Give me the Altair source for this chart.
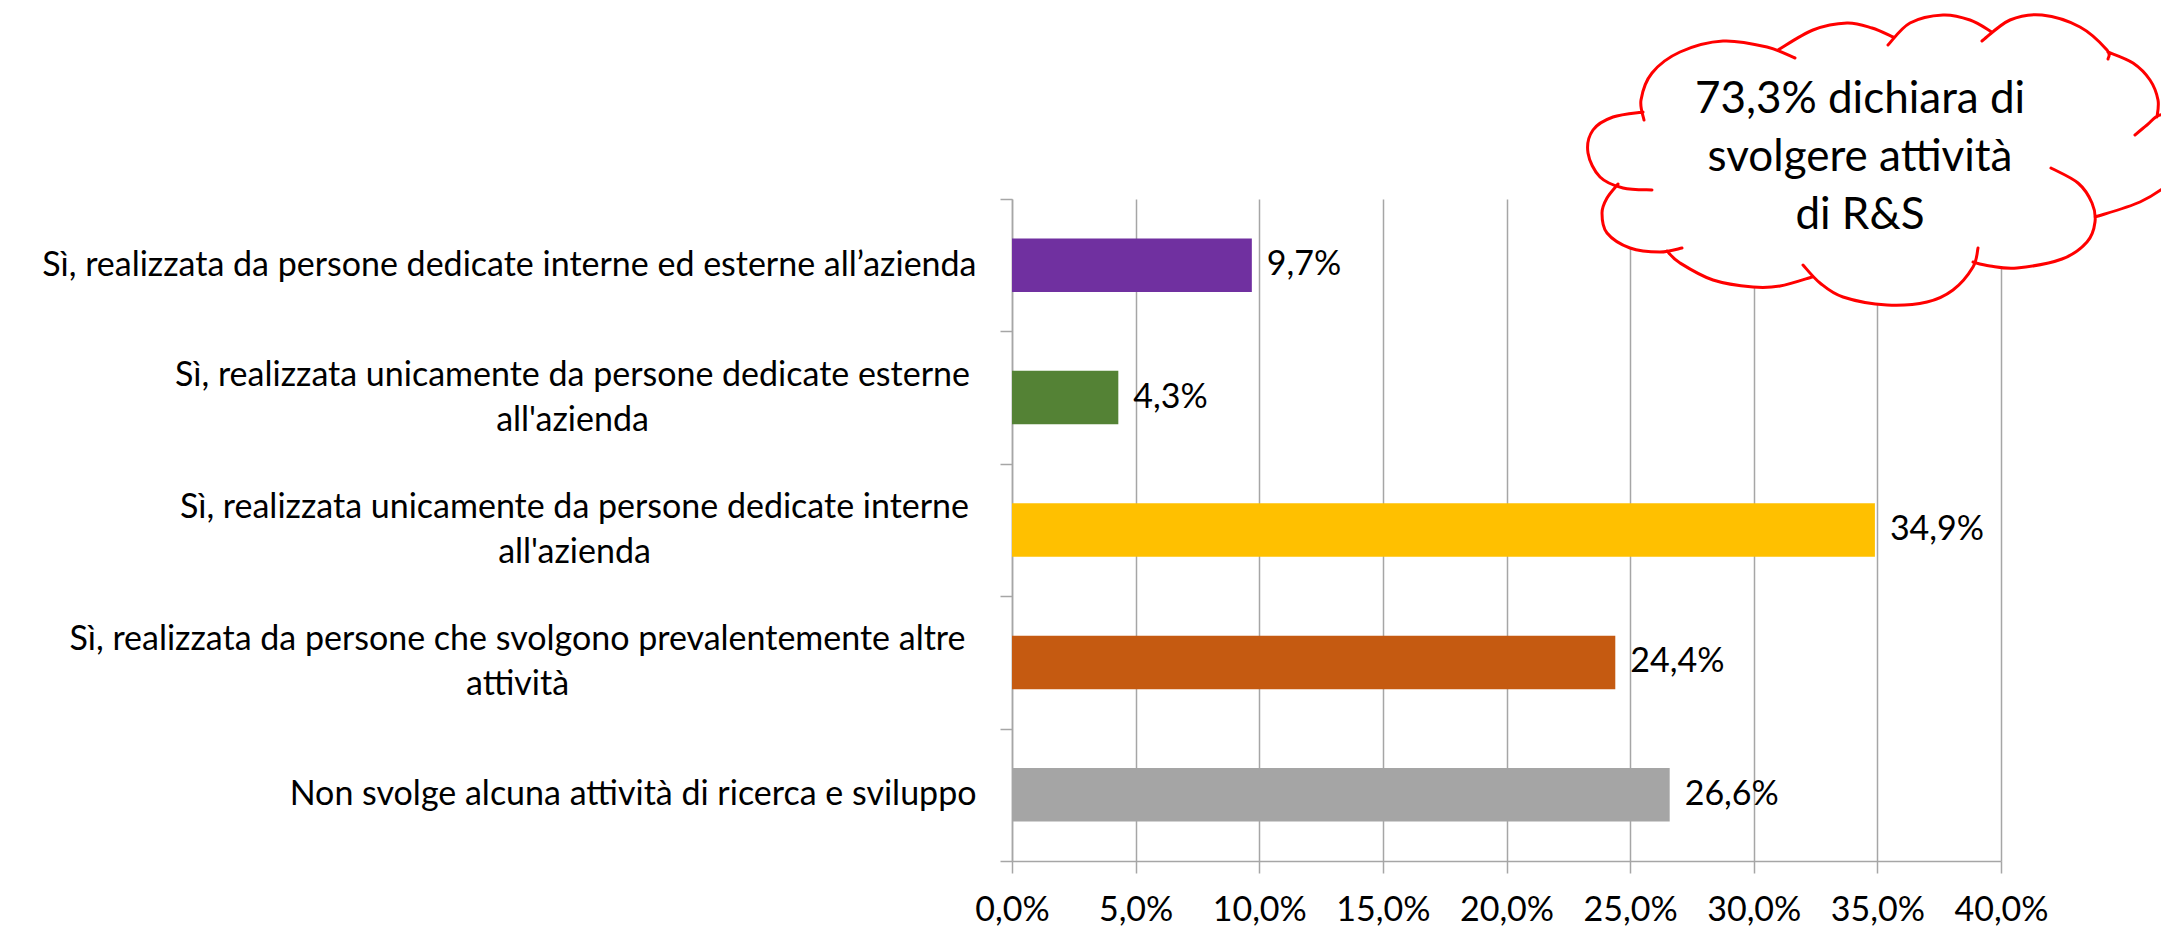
import json
import altair as alt
import pandas as pd

# ---------------- data ----------------
categories = [
    "Sì, realizzata da persone dedicate interne ed esterne all’azienda",
    "Sì, realizzata unicamente da persone dedicate esterne all'azienda",
    "Sì, realizzata unicamente da persone dedicate interne all'azienda",
    "Sì, realizzata da persone che svolgono prevalentemente altre attività",
    "Non svolge alcuna attività di ricerca e sviluppo",
]
label_lines = [
    ["Sì, realizzata da persone dedicate interne ed esterne all’azienda"],
    ["Sì, realizzata unicamente da persone dedicate esterne", "all'azienda"],
    ["Sì, realizzata unicamente da persone dedicate interne", "all'azienda"],
    ["Sì, realizzata da persone che svolgono prevalentemente altre", "attività"],
    ["Non svolge alcuna attività di ricerca e sviluppo"],
]
values = [0.097, 0.043, 0.349, 0.244, 0.266]
bar_colors = ["#7030A0", "#548235", "#FFC000", "#C55A11", "#A5A5A5"]
x_ticks = [0.0, 0.05, 0.10, 0.15, 0.20, 0.25, 0.30, 0.35, 0.40]
callout_lines = ["73,3% dichiara di", "svolgere attività", "di R&S"]

# ---------------- layout ----------------
W_TOTAL, H_TOTAL = 2161, 926
PAD_L, PAD_T, PLOT_W, PLOT_H = 1012, 199, 989, 662
PAD_R = W_TOTAL - PAD_L - PLOT_W
PAD_B = H_TOTAL - PAD_T - PLOT_H
FONT = "Lato"
GRID = "#A6A6A6"
BAR_SIZE = 53.5
LINE_H = 45

# cloud callout outline (page pixels), one list per bump of the cloud
cloud_bumps = [
    [(1644, 120), (1641, 100), (1652, 73), (1680, 52), (1723, 41), (1767, 47), (1795, 58)],
    [(1778, 50), (1813, 30), (1847, 23), (1872, 28), (1893, 37)],
    [(1888, 45), (1910, 23), (1943, 15), (1970, 20), (1992, 32)],
    [(1982, 41), (2010, 20), (2042, 15), (2080, 27), (2107, 50), (2108, 59)],
    [(2108, 52), (2133, 63), (2150, 80), (2158, 100), (2157, 117)],
    [(2135, 135), (2147, 125), (2160, 115), (2178, 120), (2190, 145), (2188, 165)],
    [(2192, 160), (2170, 183), (2140, 202), (2095, 217)],
    [(2051, 168), (2078, 183), (2092, 203), (2095, 222), (2087, 242), (2062, 259), (2017, 268), (1990, 266), (1973, 262)],
    [(1978, 248), (1973, 267), (1953, 290), (1927, 302), (1887, 305), (1843, 297), (1820, 283), (1803, 265)],
    [(1812, 277), (1780, 286), (1753, 287), (1713, 280), (1680, 263), (1667, 251)],
    [(1682, 248), (1660, 252), (1630, 248), (1607, 233), (1602, 213), (1607, 198), (1618, 184)],
    [(1652, 190), (1623, 188), (1600, 177), (1588, 153), (1593, 130), (1613, 117), (1643, 112)],
]
CLOUD_CENTER = (1880, 165)
CALLOUT_X, CALLOUT_Y_FIRST = 1860, 100


def rel(pt):
    return (pt[0] - PAD_L, pt[1] - PAD_T)


def fmt(pt):
    return f"{pt[0]:.1f} {pt[1]:.1f}"


def curve(pts):
    p = [rel(q) for q in pts]
    segs = []
    for i in range(len(p) - 1):
        p0 = p[i - 1] if i > 0 else p[i]
        p1, p2 = p[i], p[i + 1]
        p3 = p[i + 2] if i + 2 < len(p) else p[i + 1]
        c1 = (p1[0] + (p2[0] - p0[0]) / 6, p1[1] + (p2[1] - p0[1]) / 6)
        c2 = (p2[0] - (p3[0] - p1[0]) / 6, p2[1] - (p3[1] - p1[1]) / 6)
        segs.append(f"C {fmt(c1)} {fmt(c2)} {fmt(p2)}")
    return p[0], " ".join(segs)


fill_parts, stroke_parts = [], []
for bump in cloud_bumps:
    start, segs = curve(bump)
    fill_parts.append(f"M {fmt(rel(CLOUD_CENTER))} L {fmt(start)} {segs} Z")
    stroke_parts.append(f"M {fmt(start)} {segs}")
cloud_fill_path = " ".join(fill_parts)
cloud_stroke_path = " ".join(stroke_parts)

# ---------------- chart ----------------
df = pd.DataFrame({
    "idx": list(range(len(categories))),
    "category": categories,
    "value": values,
    "color": bar_colors,
})

lines_js = json.dumps(label_lines, ensure_ascii=False)
multi_test = "datum.value >= 1 && datum.value <= 3"

y_axis = alt.Axis(
    title=None,
    labelExpr=f"{lines_js}[datum.value]",
    labelFont=FONT,
    labelFontSize=34,
    labelColor="#000000",
    labelLineHeight=LINE_H,
    labelLimit=3000,
    labelBaseline="middle",
    labelAlign={"condition": {"test": multi_test, "value": "center"}, "value": "right"},
    labelPadding={"condition": [
        {"test": "datum.value == 1", "value": 428},
        {"test": "datum.value == 2", "value": 426},
        {"test": "datum.value == 3", "value": 483},
    ], "value": 24},
    labelOffset={"condition": {"test": multi_test, "value": -LINE_H / 2}, "value": 0},
    tickBand="extent",
    tickSize=12,
    tickColor=GRID,
    tickWidth=1.5,
    domainColor=GRID,
    domainWidth=1.5,
    grid=False,
)

x_axis = alt.Axis(
    title=None,
    values=x_ticks,
    labelExpr="replace(format(datum.value, '.1%'), '.', ',')",
    labelFont=FONT,
    labelFontSize=34,
    labelColor="#000000",
    labelPadding=20,
    labelFlush=False,
    labelOverlap=False,
    tickSize=12,
    tickColor=GRID,
    tickWidth=1.5,
    domainColor=GRID,
    domainWidth=1.5,
    grid=True,
    gridColor=GRID,
    gridWidth=1.5,
)

y_enc = alt.Y("idx:O", axis=y_axis,
              scale=alt.Scale(paddingInner=0, paddingOuter=0))
x_enc = alt.X("value:Q", axis=x_axis,
              scale=alt.Scale(domain=[0, 0.4], nice=False, zero=True))

base = alt.Chart(df)

bars = base.mark_bar(size=BAR_SIZE).encode(
    y=y_enc,
    x=x_enc,
    color=alt.Color("color:N", scale=None),
)

value_labels = base.transform_calculate(
    lab="replace(format(datum.value, '.1%'), '.', ',')"
).mark_text(
    align="left", baseline="middle", dx=15, font=FONT, fontSize=34, color="#000000"
).encode(
    y=alt.Y("idx:O"),
    x=alt.X("value:Q"),
    text="lab:N",
)

one = pd.DataFrame({"k": [0]})

cloud_fill = alt.Chart(one).mark_point(
    shape=cloud_fill_path, size=4, filled=True, fill="#FFFFFF",
    strokeWidth=0, opacity=1,
).encode(x=alt.value(0), y=alt.value(0))

cloud_stroke = alt.Chart(one).mark_point(
    shape=cloud_stroke_path, size=4, filled=False, color="#FF0000",
    strokeWidth=3, opacity=1, strokeCap="round",
).encode(x=alt.value(0), y=alt.value(0))

cloud_text = alt.Chart(one).mark_text(
    text=callout_lines, align="center", baseline="middle",
    font=FONT, fontSize=44, lineHeight=58, color="#000000",
).encode(x=alt.value(CALLOUT_X - PAD_L), y=alt.value(CALLOUT_Y_FIRST - PAD_T))

chart = alt.layer(
    bars, value_labels, cloud_fill, cloud_stroke, cloud_text
).properties(
    width=PLOT_W,
    height=PLOT_H,
    autosize=alt.AutoSizeParams(type="none"),
    padding={"left": PAD_L, "top": PAD_T, "right": PAD_R, "bottom": PAD_B},
    background="#FFFFFF",
).configure_view(stroke=None)

chart.save("out.html", embed_options={"renderer": "svg", "actions": False})
